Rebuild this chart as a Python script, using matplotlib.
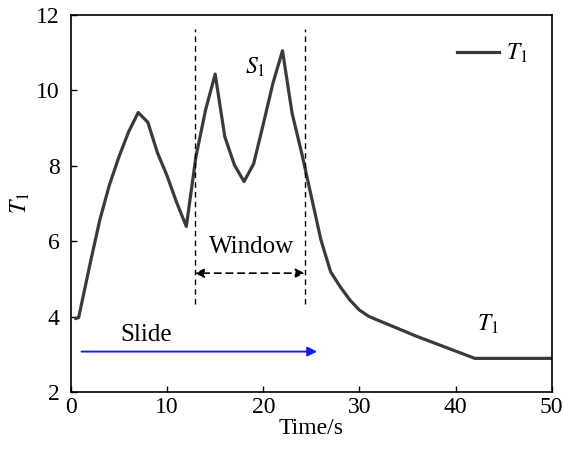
import matplotlib
matplotlib.use("Agg")
import matplotlib.pyplot as plt

plt.rcParams['font.family'] = ['Liberation Serif', 'DejaVu Serif']
plt.rcParams['mathtext.fontset'] = 'stix'

time = [0.5, 0.8, 2, 3, 4, 5, 6, 7, 8, 9, 10, 11, 12, 13, 14, 15, 16, 17, 18, 19, 20,
        21, 22, 23, 24, 25, 26, 27, 28, 29, 30, 31, 36, 42, 50]
t1 = [3.95, 3.97, 5.41, 6.56, 7.49, 8.24, 8.9, 9.41, 9.15, 8.34, 7.73, 7.02, 6.39,
      8.24, 9.48, 10.43, 8.77, 8.02, 7.58, 8.05, 9.1, 10.18, 11.05, 9.39, 8.33,
      7.18, 6.03, 5.19, 4.79, 4.44, 4.17, 4.0, 3.47, 2.89, 2.89]

window_edges = [12.9, 24.3]
xticks = [0, 10, 20, 30, 40, 50]
yticks = [2, 4, 6, 8, 10, 12]

fig = plt.figure(figsize=(5.63, 4.51), dpi=100)
ax = fig.add_axes([0.126, 0.131, 0.854, 0.836])

ax.plot(time, t1, color='#3a3a3a', lw=2.3, label='$T_1$')

for xe in window_edges:
    ax.plot([xe, xe], [4.33, 11.63], color='black', lw=1.0, ls=(0, (4, 3)))

ax.annotate('', xy=(window_edges[0], 5.15), xytext=(window_edges[1], 5.15),
            arrowprops=dict(arrowstyle='<|-|>', color='black', lw=1.2,
                            ls=(0, (4, 3)), mutation_scale=13, shrinkA=0, shrinkB=0))
ax.text(18.8, 5.85, 'Window', ha='center', va='center', fontsize=18)
ax.text(19.2, 10.6, '$S_1$', ha='center', va='center', fontsize=17)

ax.annotate('', xy=(25.6, 3.07), xytext=(1.1, 3.07),
            arrowprops=dict(arrowstyle='-|>', color='#1a1aff', lw=1.4,
                            mutation_scale=14, shrinkA=0, shrinkB=0))
ax.text(7.8, 3.5, 'Slide', ha='center', va='center', fontsize=18)
ax.text(43.4, 3.78, '$T_1$', ha='center', va='center', fontsize=17)

ax.set_xlim(0, 50)
ax.set_ylim(2, 12)
ax.set_xticks(xticks)
ax.set_yticks(yticks)
ax.tick_params(direction='in', labelsize=17, width=1.0, length=4)
ax.tick_params(axis='y', pad=8)
ax.tick_params(axis='x', pad=4)
for s in ax.spines.values():
    s.set_linewidth(1.2)
ax.set_xlabel('Time/s', fontsize=17, labelpad=0)
ax.set_ylabel('$T_1$', fontsize=17, labelpad=3)

leg = ax.legend(loc='upper right', frameon=False, fontsize=17, handlelength=1.8,
                handletextpad=0.3, bbox_to_anchor=(0.995, 0.985))

fig.savefig('out.png', dpi=100)
